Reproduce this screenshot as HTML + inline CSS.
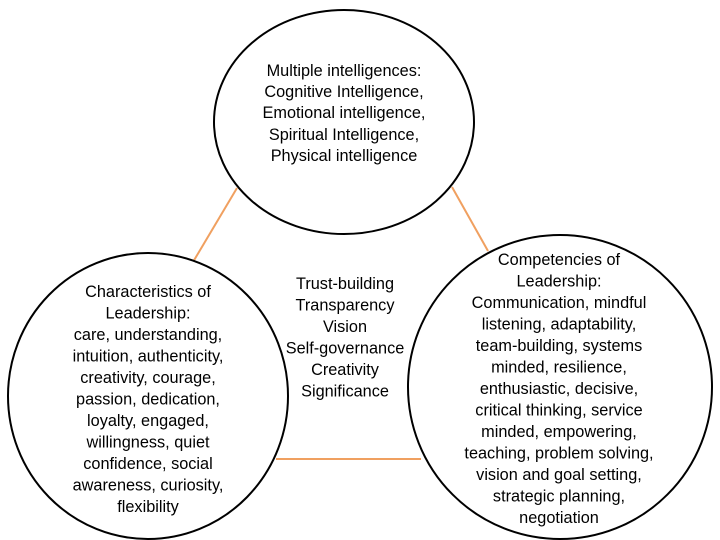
<!DOCTYPE html>
<html><head><meta charset="utf-8"><style>
html,body{margin:0;padding:0;background:#fff;}
svg{display:block;}
text{font-family:"Liberation Sans",sans-serif;font-size:16.3px;fill:#000;text-anchor:middle;dominant-baseline:central;}
</style></head><body>
<svg width="720" height="540" viewBox="0 0 720 540">
<g stroke="#F0A060" stroke-width="2">
<line x1="237" y1="188" x2="193" y2="262"/>
<line x1="452" y1="187" x2="488" y2="251"/>
<line x1="276" y1="459" x2="421" y2="459"/>
</g>
<g fill="#fff" stroke="#000" stroke-width="2">
<ellipse cx="344" cy="122" rx="130" ry="112"/>
<ellipse cx="148" cy="396" rx="140" ry="143"/>
<ellipse cx="560" cy="387" rx="152" ry="152"/>
</g>
<g>
<text x="344" y="71">Multiple intelligences:</text>
<text x="344" y="92">Cognitive Intelligence,</text>
<text x="344" y="113">Emotional intelligence,</text>
<text x="344" y="135">Spiritual Intelligence,</text>
<text x="344" y="156">Physical intelligence</text>

<text x="345" y="284">Trust-building</text>
<text x="345" y="305.5">Transparency</text>
<text x="345" y="327">Vision</text>
<text x="345" y="348.5">Self-governance</text>
<text x="345" y="370">Creativity</text>
<text x="345" y="391.5">Significance</text>

<text x="148" y="292">Characteristics of</text>
<text x="148" y="313.5">Leadership:</text>
<text x="148" y="335">care, understanding,</text>
<text x="148" y="356.5">intuition, authenticity,</text>
<text x="148" y="378">creativity, courage,</text>
<text x="148" y="399.5">passion, dedication,</text>
<text x="148" y="421">loyalty, engaged,</text>
<text x="148" y="442.5">willingness, quiet</text>
<text x="148" y="464">confidence, social</text>
<text x="148" y="485.5">awareness, curiosity,</text>
<text x="148" y="507">flexibility</text>

<text x="559" y="260">Competencies of</text>
<text x="559" y="281.5">Leadership:</text>
<text x="559" y="303">Communication, mindful</text>
<text x="559" y="324.5">listening, adaptability,</text>
<text x="559" y="346">team-building, systems</text>
<text x="559" y="367.5">minded, resilience,</text>
<text x="559" y="389">enthusiastic, decisive,</text>
<text x="559" y="410.5">critical thinking, service</text>
<text x="559" y="432">minded, empowering,</text>
<text x="559" y="453.5">teaching, problem solving,</text>
<text x="559" y="475">vision and goal setting,</text>
<text x="559" y="496.5">strategic planning,</text>
<text x="559" y="518">negotiation</text>
</g>
</svg>
</body></html>
